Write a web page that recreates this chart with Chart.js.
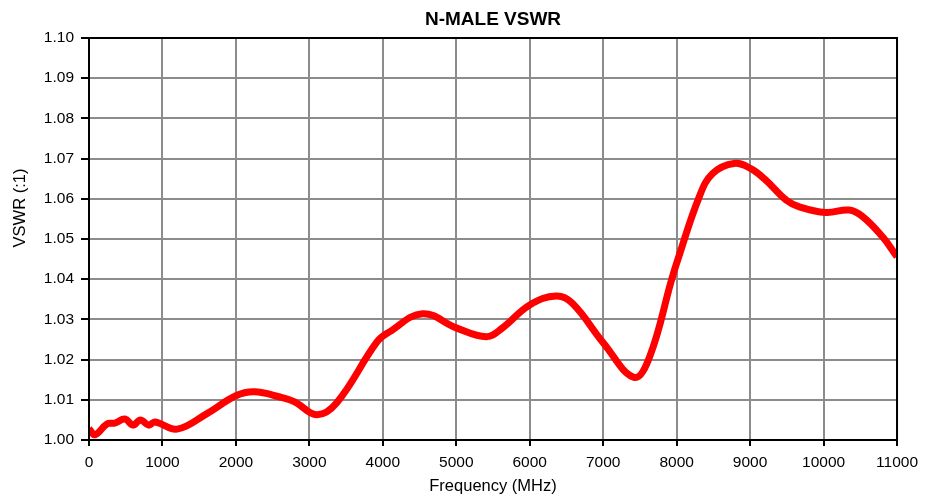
<!DOCTYPE html>
<html>
<head>
<meta charset="utf-8">
<script src="https://cdn.jsdelivr.net/npm/chart.js@4/dist/chart.umd.min.js"></script>
<style>
  html, body { margin: 0; padding: 0; background: #fff; }
  #wrap { width: 925px; height: 496px; }
</style>
</head>
<body>
<div id="wrap"><canvas id="c"></canvas></div>
<script>
// frequency (MHz) and VSWR
const freqs = [0, 82, 245, 350, 490, 600, 700, 810, 900, 1200, 1600, 2000, 2250, 2600, 2800,
  3100, 3370, 3920, 4090, 4540, 5000, 5410, 5630, 6000, 6360, 6580, 7000, 7420, 7630, 7930,
  8000, 8310, 8490, 8780, 9010, 9210, 9490, 9670, 10030, 10350, 10530, 10800, 11000];
const vswr = [1.0028, 1.0013, 1.0040, 1.0042, 1.0052, 1.0037, 1.0050, 1.0037, 1.0045, 1.0027,
  1.0065, 1.0110, 1.0120, 1.0107, 1.0095, 1.0063, 1.0092, 1.0244, 1.0269, 1.0314, 1.0279,
  1.0257, 1.0279, 1.0336, 1.0358, 1.0340, 1.0242, 1.0156, 1.0206, 1.0398, 1.0440, 1.0606,
  1.0663, 1.0688, 1.0675, 1.0647, 1.0597, 1.0580, 1.0566, 1.0572, 1.0556, 1.0506, 1.0456];

const FONT = 'Liberation Sans, Arial, sans-serif';
const yTitle = 'VSWR (:1)';

// box around the plot area + the y axis title (sits a bit above the middle in the original)
const frame = {
  id: 'frame',
  afterDatasetsDraw(chart) {
    const a = chart.chartArea, ctx = chart.ctx;
    ctx.save();
    ctx.strokeStyle = '#000';
    ctx.lineWidth = 2;
    ctx.strokeRect(a.left, a.top, a.right - a.left, a.bottom - a.top);
    ctx.restore();
  },
  afterDraw(chart) {
    const ctx = chart.ctx;
    ctx.save();
    ctx.translate(20.5, 208);
    ctx.rotate(-Math.PI / 2);
    ctx.fillStyle = '#000';
    ctx.font = '16.5px ' + FONT;
    ctx.textAlign = 'center';
    ctx.textBaseline = 'middle';
    ctx.fillText(yTitle, 0, 0);
    ctx.restore();
  }
};

new Chart(document.getElementById('c'), {
  type: 'line',
  data: {
    datasets: [{
      data: freqs.map((f, i) => ({ x: f, y: vswr[i] })),
      borderColor: '#ff0000',
      borderWidth: 7,
      pointRadius: 0,
      tension: 0.4,
      fill: false
    }]
  },
  options: {
    responsive: true,
    maintainAspectRatio: false,
    animation: false,
    layout: { padding: { left: 0, right: 27, top: 0, bottom: 0 } },
    plugins: {
      legend: { display: false },
      tooltip: { enabled: false },
      title: {
        display: true,
        fullSize: false,
        text: 'N-MALE VSWR',
        color: '#000',
        font: { family: FONT, size: 19, weight: 'bold' },
        padding: { top: 8, bottom: 7.2 }
      }
    },
    scales: {
      x: {
        type: 'linear',
        min: 0, max: 11000,
        ticks: { stepSize: 1000, color: '#000', font: { family: FONT, size: 15.5 }, padding: 7, maxRotation: 0,
          callback: v => String(v) },
        grid: { color: '#8c8c8c', lineWidth: 2, tickLength: 6, tickColor: '#000' },
        border: { color: '#000', width: 2 },
        title: { display: true, text: 'Frequency (MHz)', color: '#000', font: { family: FONT, size: 16.5 }, padding: { top: 0, bottom: 0 } },
        afterFit(scale) { scale.height = 56; }
      },
      y: {
        min: 1.0, max: 1.1,
        ticks: { stepSize: 0.01, color: '#000', font: { family: FONT, size: 15.5 }, padding: 7,
          callback: v => v.toFixed(2) },
        grid: { color: '#8c8c8c', lineWidth: 2, tickLength: 8, tickColor: '#000' },
        border: { color: '#000', width: 2 },
        afterFit(scale) { scale.width = 89; }
      }
    }
  },
  plugins: [frame]
});
</script>
</body>
</html>
